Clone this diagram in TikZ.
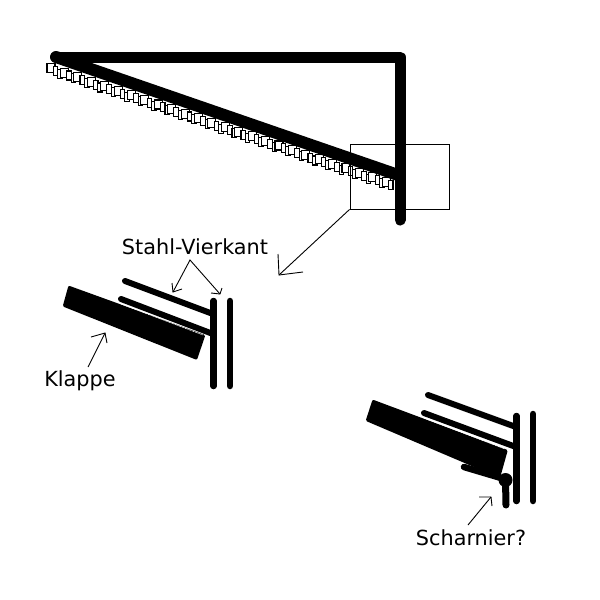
\documentclass[tikz,border=0pt]{standalone}
\usepackage{fontspec}
\setmainfont{DejaVu Sans}
\tikzset{
  heavy/.style={line width=#1,line cap=round,line join=round},
  thin1/.style={line width=0.9pt,line cap=butt},
  lab/.style={inner sep=0pt,font=\fontsize{20.8}{24}\selectfont,anchor=base},
  slab/.style={draw=black,fill=black,line width=3pt,line join=round},
  link/.style={draw=black,fill=white,line width=1.1pt},
  seam/.style={draw=white,line width=0.5pt,dash pattern=on 3pt off 0.6pt}
}
\begin{document}
\begin{tikzpicture}[x=1pt,y=-1pt]
\useasboundingbox (0,0) rectangle (600,600);
% chain of links under the diagonal
\foreach \i in {0,...,76}{
  \pgfmathsetmacro{\px}{51+\i*4.47}
  \pgfmathsetmacro{\py}{68+\i*1.52+1.4*mod(\i,3)}
  \pgfmathsetmacro{\pw}{ifthenelse(mod(\i,3)==0,8,4.5)}
  \draw[link] (\px-\pw/2,\py-4.5) rectangle (\px+\pw/2,\py+4.5);
}
% detail frame
\node[draw=black,line width=0.9pt,inner sep=0pt,minimum width=99pt,minimum height=65pt] (frame) at (399.5,176.5) {};
% main frame
\coordinate (a) at (56,57);
\coordinate (b) at (400,57);
\coordinate (c) at (400,220);
\coordinate (d) at (398,175);
\draw[heavy=11pt] (a) -- (b) -- (c);
\draw[heavy=12pt] (a) -- (d);
% pointer to detail
\coordinate (p1) at (279,275);
\draw[thin1] (frame.south west) -- (p1);
\draw[thin1] (278,254) -- (p1) -- (303,272);
% left group
\draw[slab] (69.5,287.5) -- (64.5,305.5) -- (196,358) -- (203.5,336) -- cycle;
\draw[heavy=6pt] (125,281) -- (213,314);
\draw[heavy=6pt] (121,299) -- (213,334);
\draw[seam] (121,304) -- (203,335);
\draw[heavy=6.5pt] (213.5,301) -- (213.5,386);
\draw[heavy=6.5pt] (230,301) -- (230,386);
% right group
\draw[slab] (373.5,401.5) -- (367.5,420) -- (499,476) -- (506,451) -- cycle;
\draw[heavy=6pt] (428,395) -- (516,427);
\draw[heavy=6pt] (424,413) -- (516,447);
\draw[seam] (424,418) -- (505,449);
\draw[heavy=6.5pt] (464,467) -- (501,478);
\draw[heavy=6.5pt] (516.5,416) -- (516.5,501);
\draw[heavy=6.5pt] (533,414) -- (533,501);
\node[circle,fill=black,inner sep=0pt,minimum size=14pt] (hinge) at (505.5,480) {};
\draw[heavy=7pt] (hinge.center) -- (506,505);
% labels
\node[lab] (stahl) at (195,254) {Stahl-Vierkant};
\node[lab] (klappe) at (80,386) {Klappe};
\node[lab] (scharnier) at (471,545) {Scharnier?};
% label arrows
\coordinate (s0) at (190,260);
\coordinate (s1) at (173,292);
\coordinate (s2) at (220,294);
\coordinate (k1) at (105,333);
\coordinate (h1) at (491,497);
\draw[thin1] (s1) -- (s0) -- (s2);
\draw[thin1] (172,283) -- (s1) -- (182,289);
\draw[thin1] (211,293) -- (s2) -- (222,288);
\draw[thin1] (88,367) -- (k1);
\draw[thin1] (91,337) -- (k1) -- (107,343);
\draw[thin1] (468,525) -- (h1);
\draw[thin1] (479,497) -- (h1) -- (492,506);
\end{tikzpicture}
\end{document}
